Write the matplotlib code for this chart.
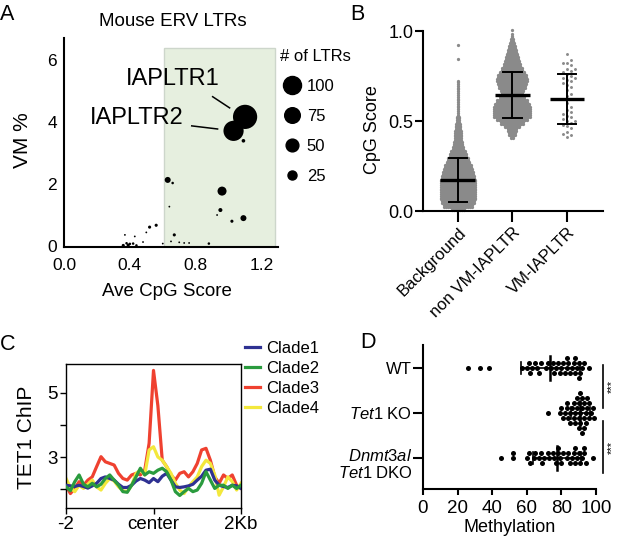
import numpy as np
import matplotlib
matplotlib.use("Agg")
import matplotlib.pyplot as plt
from matplotlib.lines import Line2D

plt.rcParams["font.family"] = ["Liberation Sans", "DejaVu Sans"]
plt.rcParams["mathtext.fontset"] = "custom"
plt.rcParams["mathtext.it"] = "Liberation Sans:italic"
plt.rcParams["mathtext.rm"] = "Liberation Sans"

# ---- panel A: mouse ERV LTRs (ave CpG score, VM %, number of LTRs)
ltr_cpg = [1.10, 1.03, 1.09, 0.63, 0.66, 0.96, 0.95, 1.09, 1.02, 0.52, 0.56, 0.67, 0.88,
           0.37, 0.43, 0.50, 0.38, 0.40, 0.42, 0.48, 0.60, 0.64, 0.65, 0.70, 0.73, 0.76,
           0.93, 0.36, 0.39, 0.44]
ltr_vm = [4.16, 3.71, 3.39, 2.13, 2.03, 1.77, 1.16, 0.90, 0.80, 0.61, 0.67, 0.36, 0.08,
          0.36, 0.31, 0.44, 0.09, 0.07, 0.08, 0.13, 0.08, 1.27, 0.15, 0.12, 0.10, 0.10,
          1.00, 0.02, 0.03, 0.02]
ltr_n = [180, 125, 4, 11, 2, 25, 5, 11, 3, 3, 3, 3, 2,
         1, 1, 1, 2, 2, 2, 1, 1, 1, 1, 1, 1, 1,
         1, 3, 3, 2]
legend_n = [100, 75, 50, 25]

# ---- panel B: CpG score distributions
groups_b = ["Background", "non VM-IAPLTR", "VM-IAPLTR"]
cpg_bin_width = 0.02
# number of LTRs per 0.02 CpG-score bin, starting at 0.00
bg_counts = [14, 30, 34, 36, 36, 36, 36, 36, 36, 34, 32, 30, 28, 24, 22, 18, 16, 12, 10, 9,
             8, 8, 7, 6, 5, 4, 3, 2, 2, 2, 2, 2, 2, 2, 2, 2, 1, 0, 0, 0,
             0, 0, 1, 0, 0, 0, 1, 0, 0, 0, 0]
nonvm_counts = [0] * 20 + [4, 8, 10, 16, 24, 32, 38, 38, 38, 36,
                           32, 26, 22, 24, 28, 30, 32, 30, 26, 22,
                           18, 16, 14, 12, 10, 8, 6, 4, 2, 1, 1]
vm_scores = [0.87, 0.84, 0.82, 0.82, 0.81, 0.79, 0.79, 0.78, 0.77, 0.76, 0.75, 0.74, 0.74,
             0.73, 0.72, 0.71, 0.70, 0.69, 0.67, 0.65, 0.64, 0.62, 0.60, 0.58, 0.56, 0.55,
             0.54, 0.53, 0.52, 0.51, 0.50, 0.50, 0.49, 0.48, 0.47, 0.46, 0.44, 0.43, 0.42, 0.41]
means_b = [0.172, 0.644, 0.622]
sds_b = [0.12, 0.127, 0.139]

# ---- panel C: TET1 ChIP profiles around LTRs
chip_pos = list(range(-2000, 2001, 100))
clade1 = [2.12, 2.10, 2.08, 2.12, 2.08, 2.03, 2.10, 2.18, 2.33, 2.38, 2.33, 2.28, 2.15, 2.05,
          2.05, 2.12, 2.25, 2.33, 2.28, 2.20, 2.33, 2.23, 2.40, 2.49, 2.28, 2.07, 2.05, 2.07,
          2.10, 2.15, 2.28, 2.40, 2.59, 2.62, 2.28, 2.12, 2.08, 2.05, 2.12, 2.10, 2.02]
clade2 = [2.07, 1.95, 2.23, 2.44, 2.15, 2.07, 2.18, 2.07, 2.15, 2.33, 2.44, 2.28, 2.12, 1.92,
          1.90, 2.12, 2.38, 2.65, 2.44, 2.54, 2.49, 2.59, 2.65, 2.54, 2.28, 1.92, 1.80, 1.92,
          2.02, 1.92, 1.97, 2.18, 2.54, 2.28, 2.02, 2.12, 2.12, 2.02, 2.12, 2.02, 2.12]
clade3 = [2.12, 1.86, 2.02, 2.23, 2.12, 2.28, 2.38, 2.70, 3.01, 2.85, 2.80, 2.75, 2.49, 2.33,
          2.28, 2.44, 2.49, 2.44, 2.59, 3.43, 5.70, 4.60, 2.90, 2.70, 2.44, 2.28, 2.49, 2.54,
          2.38, 2.54, 2.80, 3.22, 3.27, 2.90, 2.38, 2.18, 2.44, 2.33, 2.44, 2.12, 2.02]
clade4 = [2.33, 2.05, 1.92, 2.12, 2.02, 2.15, 2.28, 2.07, 1.97, 2.18, 2.33, 2.25, 2.07, 1.95,
          1.92, 2.12, 2.49, 2.59, 2.44, 3.22, 3.32, 3.00, 2.90, 2.70, 2.49, 2.18, 1.97, 1.86,
          2.07, 2.23, 2.38, 2.70, 2.90, 2.80, 2.44, 1.81, 2.07, 2.38, 2.23, 1.97, 2.18]
clade_names = ["Clade1", "Clade2", "Clade3", "Clade4"]
clade_colors = ["#2e3192", "#2a9b3e", "#ef4130", "#f3e83c"]

# ---- panel D: methylation per genotype
meth_wt = [26, 33, 38, 57, 60, 61, 62, 63, 65, 66, 67, 68, 71, 72, 74, 75, 76, 77, 78, 79,
           80, 81, 82, 83, 83, 84, 85, 86, 87, 88, 88, 89, 90, 90, 91, 92, 93, 96]
meth_ko = [72, 79, 80, 81, 82, 83, 83, 84, 85, 85, 86, 87, 87, 88, 88, 89, 89, 90, 90, 90,
           91, 91, 91, 92, 92, 92, 93, 93, 93, 94, 94, 95, 95, 96, 96, 97, 98, 99]
meth_dko = [45, 52, 52, 60, 61, 62, 64, 65, 67, 68, 69, 70, 72, 73, 75, 76, 77, 78, 78, 79,
            80, 81, 83, 84, 85, 86, 87, 88, 88, 89, 90, 91, 92, 93, 93, 94, 98]
means_d = [73.5, 91.0, 77.5]
sds_d = [17.0, 5.5, 14.0]

W, H = 617, 538
fig = plt.figure(figsize=(W / 100, H / 100), dpi=100)


def px_axes(x0, y0, x1, y1):
    return fig.add_axes([x0 / W, 1 - y1 / H, (x1 - x0) / W, (y1 - y0) / H])


def ftext(x, y, s, **kw):
    return fig.text(x / W, 1 - y / H, s, **kw)


def beeswarm(vals_px, d):
    offs = np.zeros(len(vals_px))
    placed = []
    for i in np.argsort(vals_px):
        v = vals_px[i]
        for k in range(80):
            c = 0.0 if k == 0 else ((k + 1) // 2) * d * (1 if k % 2 else -1)
            if all((v - pv) ** 2 + (c - pc) ** 2 >= (0.95 * d) ** 2 for pv, pc in placed):
                break
        offs[i] = c
        placed.append((v, c))
    return offs


# ================= A =================
axA = px_axes(64, 38, 278, 247)
axA.set_xlim(0, 1.3)
axA.set_ylim(-0.03, 6.7)
axA.add_patch(plt.Rectangle((0.606, -0.03), 1.28 - 0.606, 6.42, facecolor="#e6efdf",
                            edgecolor="#cdd6cb", lw=1, zorder=0))
size_k = 1.69
axA.scatter(ltr_cpg, ltr_vm, s=[size_k * n for n in ltr_n], color="black", lw=0, zorder=3)
for s in ["top", "right"]:
    axA.spines[s].set_visible(False)
for s in ["left", "bottom"]:
    axA.spines[s].set_linewidth(1.5)
axA.set_xticks([0.0, 0.4, 0.8, 1.2], ["0.0", "0.4", "0.8", "1.2"])
axA.set_yticks([0, 2, 4, 6], ["0", "2", "4", "6"])
axA.tick_params(length=0, labelsize=12.5)
axA.tick_params(axis="y", pad=5)
axA.tick_params(axis="x", pad=8)
axA.text(0.66, 5.39, "IAPLTR1", fontsize=17, ha="center", va="center")
axA.plot([0.903, 1.006], [4.81, 4.45], color="black", lw=1.1)
axA.text(0.44, 4.13, "IAPLTR2", fontsize=17, ha="center", va="center")
axA.plot([0.776, 0.933], [3.87, 3.77], color="black", lw=1.1)
handles = [Line2D([], [], ls="", marker="o", color="black",
                  markersize=np.sqrt(size_k * n)) for n in legend_n]
fig.legend(handles, [str(n) for n in legend_n], title="# of LTRs", loc="upper left",
           bbox_to_anchor=(270 / W, 1 - 39 / H), frameon=False, fontsize=12,
           title_fontsize=12, alignment="left", handlelength=1.4, handletextpad=0.2,
           labelspacing=0.9, borderpad=0.6, borderaxespad=0)
ftext(173, 22, "Mouse ERV LTRs", fontsize=13.5, ha="center", va="center")
ftext(23, 140, "VM %", fontsize=15, ha="center", va="center", rotation=90)
ftext(167, 292, "Ave CpG Score", fontsize=13.5, ha="center", va="center")
ftext(0, 20, "A", fontsize=15.5, va="baseline")

# ================= B =================
axB = px_axes(423, 31, 603, 211)
axB.set_xlim(-0.64, 2.66)
axB.set_ylim(0, 1.0)
step_b = 2.0 / 54.5
gray_b = "#8a8a8a"


def count_swarm(ax, xc, counts):
    xs, ys = [], []
    for i, n in enumerate(counts):
        lo = i * cpg_bin_width
        for r, m in enumerate((n - n // 2, n // 2)):
            y = lo + cpg_bin_width * (0.25 + 0.5 * r)
            offs = (np.arange(m) - (m - 1) / 2) * step_b
            xs.extend(xc + offs)
            ys.extend([y] * m)
    ax.scatter(xs, ys, s=5.5, color=gray_b, lw=0, zorder=2, clip_on=False)


count_swarm(axB, 0, bg_counts)
count_swarm(axB, 1, nonvm_counts)
vm_off = beeswarm(np.array(vm_scores) * 180, 4.0) / 54.5
axB.scatter(2 + vm_off, vm_scores, s=4.5, color=gray_b, lw=0, zorder=2)
for i, (m, sd) in enumerate(zip(means_b, sds_b)):
    axB.plot([i - 0.32, i + 0.32], [m, m], color="black", lw=2.4, zorder=4,
             solid_capstyle="butt")
    axB.plot([i, i], [m - sd, m + sd], color="black", lw=1.4, zorder=4)
    for e in (m - sd, m + sd):
        axB.plot([i - 0.17, i + 0.17], [e, e], color="black", lw=1.4, zorder=4)
for s in ["top", "right"]:
    axB.spines[s].set_visible(False)
for s in ["left", "bottom"]:
    axB.spines[s].set_linewidth(1.5)
axB.set_yticks([0, 0.5, 1.0], ["0.0", "0.5", "1.0"])
axB.set_xticks([0, 1, 2])
axB.set_xticklabels(groups_b, rotation=45, ha="right", va="top", rotation_mode="anchor")
axB.tick_params(axis="y", length=6, width=1.5, labelsize=13, pad=1)
axB.tick_params(axis="x", length=8, width=1.5, labelsize=12, pad=2)
ftext(372, 130, "CpG Score", fontsize=13, ha="center", va="center", rotation=90)
ftext(350, 20, "B", fontsize=15.5, va="baseline")

# ================= C =================
axC = px_axes(66, 364, 241, 508)
axC.set_xlim(-2000, 2000)
axC.set_ylim(1.41, 5.9)
for name, col, ys, z in zip(clade_names, clade_colors, [clade1, clade2, clade3, clade4],
                            [3, 4, 1, 2]):
    axC.plot(chip_pos, ys, color=col, lw=2.3, label=name, zorder=z)
for s in axC.spines.values():
    s.set_linewidth(1.0)
axC.set_xticks([-2000, 0, 2000], ["-2", "center", "2Kb"])
axC.set_yticks([2, 3, 4, 5], ["", "3", "", "5"])
axC.tick_params(length=4, width=1, labelsize=13.5, pad=2)
fig.legend(loc="upper left", bbox_to_anchor=(245 / W, 1 - 341 / H), frameon=False,
           fontsize=12, handlelength=0.9, handletextpad=0.35, labelspacing=0.3,
           borderpad=0, borderaxespad=0)
ftext(27, 437, "TET1 ChIP", fontsize=15, ha="center", va="center", rotation=90)
ftext(0, 350, "C", fontsize=15.5, va="baseline")

# ================= D =================
axD = px_axes(423, 345, 596, 489)
axD.set_xlim(0, 100)
axD.set_ylim(0.31, 3.51)
rows_d = [3, 2, 1]
for yv, vals, m, sd in zip(rows_d, [meth_wt, meth_ko, meth_dko], means_d, sds_d):
    off = beeswarm(np.array(vals) * 1.73, 5.0) / 45.0
    axD.scatter(vals, yv + off, s=13, color="black", lw=0, zorder=2, clip_on=False)
    axD.plot([m - sd, m + sd], [yv, yv], color="black", lw=1.2, zorder=3)
    axD.plot([m, m], [yv - 0.27, yv + 0.27], color="black", lw=1.8, zorder=3)
    for e in (m - sd, m + sd):
        axD.plot([e, e], [yv - 0.13, yv + 0.13], color="black", lw=1.2, zorder=3)
for s in ["top", "right"]:
    axD.spines[s].set_visible(False)
for s in ["left", "bottom"]:
    axD.spines[s].set_linewidth(1.5)
axD.set_xticks(range(0, 101, 20))
axD.set_yticks(rows_d, ["WT", r"$\it{Tet1}$ KO", ""])
axD.tick_params(axis="y", length=7, width=1.5, labelsize=12, pad=1)
axD.tick_params(axis="x", length=4, width=1.5, labelsize=13.5, pad=4)
axD.text(-0.06, 1.22, "$\\it{Dnmt3al}$\n$\\it{Tet1}$ DKO", transform=axD.get_yaxis_transform(),
         ha="right", va="top", multialignment="right", fontsize=12, linespacing=1.1)
axD.plot([104.0, 104.0], [3.07, 2.11], color="black", lw=1.2, clip_on=False)
axD.plot([104.0, 104.0], [1.82, 0.67], color="black", lw=1.2, clip_on=False)
axD.text(106.5, 2.6, "***", rotation=90, ha="left", va="center", fontsize=8)
axD.text(106.5, 1.24, "***", rotation=90, ha="left", va="center", fontsize=8)
ftext(510, 528, "Methylation", fontsize=13, ha="center", va="center")
ftext(360, 348, "D", fontsize=15.5, va="baseline")

fig.savefig("out.png", dpi=100)
